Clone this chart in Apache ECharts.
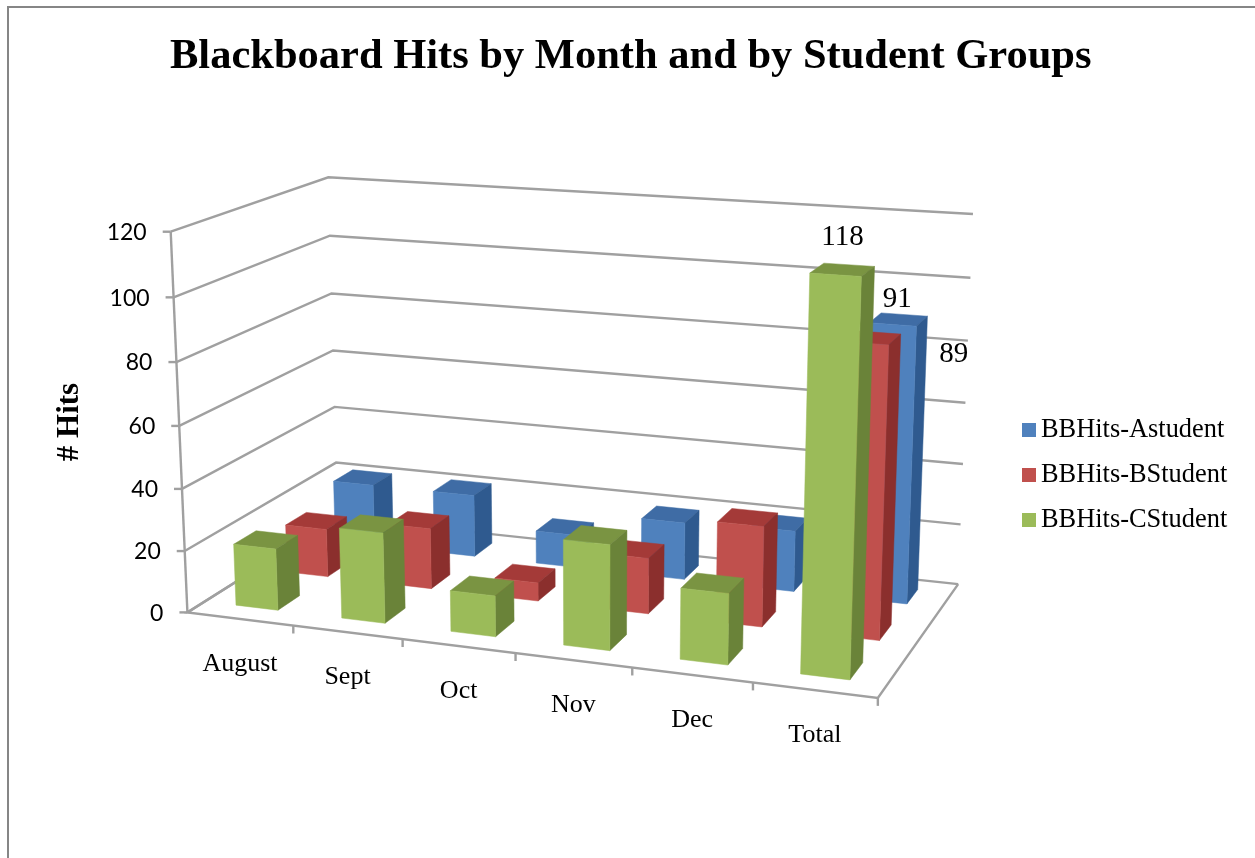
<!DOCTYPE html>
<html>
<head>
<meta charset="utf-8">
<script src="https://cdn.jsdelivr.net/npm/echarts@6/dist/echarts.min.js"></script>
<style>html,body{margin:0;padding:0;background:#fff}#c{width:1255px;height:858px}</style>
</head>
<body>
<div id="c"></div>
<script>
const categories = ['August', 'Sept', 'Oct', 'Nov', 'Dec', 'Total'];
const yTicks = [0, 20, 40, 60, 80, 100, 120];
const aStudent = [21, 21, 11, 19, 20, 89];
const bStudent = [16, 20, 6, 18, 32, 91];
const cStudent = [20, 29, 13, 33, 22, 118];

const SERIF = '"Liberation Serif","Times New Roman",serif';
const GRID = '#A0A0A0';

// Reference points for the perspective camera: (u, depth, height) -> screen
const anchors = [
  [0,0,0,187,612],[1,0,0,878,698],[1,1,0,958,584],[0,1,0,338,518],
  [0,0,1,171,232],[0,1,1,328,177],[1,1,1,973,214]
];
function solveCamera(pts){
  const A=[],B=[];
  pts.forEach(([X,Y,Z,x,y])=>{
    x/=1000;y/=1000;
    A.push([X,Y,Z,1,0,0,0,0,-x*X,-x*Y,-x*Z]);B.push(x);
    A.push([0,0,0,0,X,Y,Z,1,-y*X,-y*Y,-y*Z]);B.push(y);
  });
  const n=11,M=[];
  for(let i=0;i<n;i++){
    M.push(new Array(n+1).fill(0));
    for(let j=0;j<n;j++)for(let r=0;r<A.length;r++)M[i][j]+=A[r][i]*A[r][j];
    for(let r=0;r<A.length;r++)M[i][n]+=A[r][i]*B[r];
  }
  for(let c=0;c<n;c++){
    let p=c;for(let r=c+1;r<n;r++)if(Math.abs(M[r][c])>Math.abs(M[p][c]))p=r;
    [M[c],M[p]]=[M[p],M[c]];
    for(let r=0;r<n;r++){
      if(r===c)continue;
      const f=M[r][c]/M[c][c];
      for(let k=c;k<=n;k++)M[r][k]-=f*M[c][k];
    }
  }
  return M.map((row,i)=>row[n]/row[i]);
}
const P=solveCamera(anchors);
function proj(u,d,h){
  const w=P[8]*u+P[9]*d+P[10]*h+1;
  return [1000*(P[0]*u+P[1]*d+P[2]*h+P[3])/w,1000*(P[4]*u+P[5]*d+P[6]*h+P[7])/w];
}
function norm(params,api,cat,val){
  const c=api.coord([cat,val]),s=params.coordSys;
  return [(c[0]-s.x)/s.width,(s.y+s.height-c[1])/s.height];
}
const BAR_U=0.4/6;
function barSeries(name,values,depth0,depth1,front,top,side,labelOffset){
  return {
    type:'custom',name,
    itemStyle:{color:front},
    silent:true,clip:false,
    data:values.map((v,i)=>[i,v]),
    encode:{x:0,y:1},
    renderItem(params,api){
      const i=api.value(0),v=api.value(1);
      const [uc,h]=norm(params,api,i,v);
      const u0=uc-BAR_U/2,u1=uc+BAR_U/2;
      const poly=(pts,fill)=>({type:'polygon',shape:{points:pts},style:{fill,stroke:fill,lineWidth:0.5}});
      const ch=[
        poly([proj(u0,depth0,h),proj(u1,depth0,h),proj(u1,depth1,h),proj(u0,depth1,h)],top),
        poly([proj(u1,depth0,0),proj(u1,depth1,0),proj(u1,depth1,h),proj(u1,depth0,h)],side),
        poly([proj(u0,depth0,0),proj(u1,depth0,0),proj(u1,depth0,h),proj(u0,depth0,h)],front)
      ];
      if(i===categories.length-1){
        const t=proj(uc,depth0,h);
        ch.push({type:'text',z2:50,style:{x:t[0]+labelOffset[0],y:t[1]+labelOffset[1],text:String(v),
          font:'29px '+SERIF,fill:'#000',textAlign:'center',textVerticalAlign:'middle'}});
      }
      return {type:'group',children:ch};
    }
  };
}
const lineStyle={stroke:GRID,lineWidth:2.4};
const option={
  animation:false,
  backgroundColor:'#fff',
  title:{text:'Blackboard Hits by Month and by Student Groups',left:165,top:31,
    textStyle:{fontFamily:SERIF,fontSize:42.5,fontWeight:'bold',color:'#000'}},
  legend:{orient:'vertical',left:1017,top:412,itemWidth:14,itemHeight:14,itemGap:19,icon:'rect',
    data:['BBHits-Astudent','BBHits-BStudent','BBHits-CStudent'],
    textStyle:{fontFamily:SERIF,fontSize:26.4,color:'#000'}},
  grid:{left:187,right:377,top:232,bottom:246},
  xAxis:{type:'category',data:categories,axisLine:{show:false},axisTick:{show:false},axisLabel:{show:false},splitLine:{show:false}},
  yAxis:{type:'value',min:0,max:120,interval:20,name:'# Hits',nameLocation:'middle',nameGap:102,nameRotate:90,
    nameTextStyle:{fontFamily:SERIF,fontSize:31,fontWeight:'bold',color:'#000'},
    axisLine:{show:false},axisTick:{show:false},axisLabel:{show:false},splitLine:{show:false}},
  graphic:[{type:'rect',silent:true,shape:{x:8,y:7,width:1400,height:1000},style:{fill:'none',stroke:'#868686',lineWidth:2}}],
  series:[
    {type:'custom',silent:true,clip:false,data:yTicks.map(t=>[0,t]),encode:{x:0,y:1},z:1,
     renderItem(params,api){
       const [,h]=norm(params,api,0,api.value(1));
       const a=proj(0,0,h),b=proj(0,1,h),c=proj(1,1,h);
       const ch=[
         {type:'polyline',shape:{points:[a,b,c]},style:{...lineStyle,fill:'none'}},
         {type:'line',shape:{x1:a[0]-8,y1:a[1],x2:a[0],y2:a[1]},style:lineStyle},
         {type:'text',style:{x:a[0]-24,y:a[1]+1,text:String(api.value(1)),font:'23px Lato',fill:'#000',textAlign:'right',textVerticalAlign:'middle'}}
       ];
       if(h===0){
         const f=proj(1,0,0);
         ch.push({type:'polyline',shape:{points:[c,f,a,b]},style:{...lineStyle,fill:'none'}});
         const top=proj(0,0,1);
         ch.push({type:'line',shape:{x1:a[0],y1:a[1],x2:top[0],y2:top[1]},style:lineStyle});
       }
       return {type:'group',children:ch};
     }},
    {type:'custom',silent:true,clip:false,data:categories.map((c,i)=>[i,0]),encode:{x:0,y:1},z:1,
     renderItem(params,api){
       const i=api.value(0);
       const [uc]=norm(params,api,i,0);
       const du=1/categories.length;
       const e=proj(uc+du/2,0,0),m=proj(uc,0,0);
       return {type:'group',children:[
         {type:'line',shape:{x1:e[0],y1:e[1],x2:e[0],y2:e[1]+8},style:lineStyle},
         {type:'text',style:{x:m[0],y:m[1]+45,text:categories[i],font:'26px '+SERIF,fill:'#000',textAlign:'center',textVerticalAlign:'middle'}}
       ]};
     }},
    Object.assign(barSeries('BBHits-Astudent',aStudent,0.77,0.91,'#4F81BD','#3F6CA5','#2F5A8F',[61,30]),{z:2}),
    Object.assign(barSeries('BBHits-BStudent',bStudent,0.435,0.575,'#C0504D','#A43A38','#8B2F2D',[33,-44]),{z:3}),
    Object.assign(barSeries('BBHits-CStudent',cStudent,0.105,0.245,'#9BBB59','#7A9442','#6A8339',[7,-37]),{z:4})
  ]
};
echarts.init(document.getElementById('c')).setOption(option);
</script>
</body>
</html>
